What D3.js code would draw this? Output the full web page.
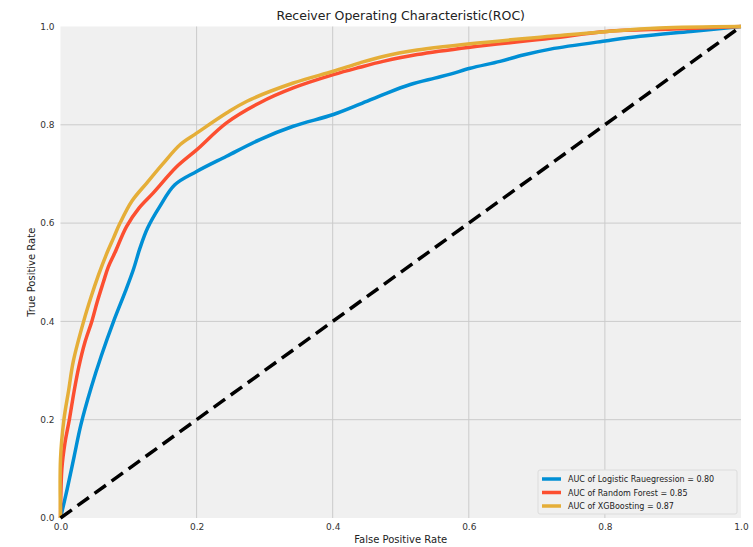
<!DOCTYPE html>
<html><head><meta charset="utf-8">
<script src="https://cdn.jsdelivr.net/npm/d3@7"></script>
<style>body{margin:0;background:#fff}svg{display:block}</style>
</head><body><svg id="c" width="753" height="547"></svg>
<script>
const title = "Receiver Operating Characteristic(ROC)";
const xLabel = "False Positive Rate";
const yLabel = "True Positive Rate";
const ticks = [0, 0.2, 0.4, 0.6, 0.8, 1.0];
const seriesNames = ["AUC of Logistic Rauegression = 0.80", "AUC of Random Forest = 0.85", "AUC of XGBoosting = 0.87"];
const colors = ["#008fd5", "#fc4f30", "#e5ae38"];

const lrFpr = [0,0.01,0.02,0.03,0.045,0.06,0.078,0.095,0.107,0.117,0.128,0.146,0.168,0.2,0.244,0.293,0.342,0.401,0.44,0.475,0.514,0.55,0.573,0.602,0.646,0.68,0.72,0.803,0.852,0.926,1];
const lrTpr = [0,0.06,0.125,0.19,0.265,0.33,0.4,0.46,0.505,0.55,0.59,0.634,0.678,0.705,0.736,0.77,0.797,0.821,0.842,0.862,0.882,0.895,0.903,0.915,0.929,0.942,0.954,0.971,0.98,0.99,1];

const rfFpr = [0,0.002,0.0066,0.013,0.02,0.027,0.036,0.046,0.054,0.063,0.07,0.08,0.097,0.115,0.136,0.171,0.2,0.244,0.293,0.342,0.401,0.44,0.474,0.524,0.602,0.72,0.803,0.9,1];
const rfTpr = [0,0.1,0.153,0.2,0.258,0.308,0.358,0.4,0.44,0.48,0.51,0.54,0.593,0.63,0.661,0.715,0.749,0.804,0.845,0.875,0.902,0.917,0.929,0.943,0.958,0.976,0.99,0.995,1];

const xgFpr = [0,0,0.005,0.012,0.019,0.034,0.045,0.056,0.067,0.078,0.0875,0.105,0.127,0.15,0.176,0.2,0.244,0.274,0.342,0.401,0.44,0.474,0.524,0.602,0.72,0.803,0.88,1];
const xgTpr = [0,0.12,0.2,0.26,0.32,0.4,0.45,0.495,0.535,0.57,0.6,0.645,0.682,0.72,0.76,0.783,0.824,0.848,0.885,0.909,0.926,0.939,0.952,0.965,0.98,0.99,0.997,1];

const diag = [0, 1];

const svg = d3.select("#c");
const L = 60.5, R = 741, T = 26.5, B = 518;
const x = d3.scaleLinear().domain([0,1]).range([L,R]);
const y = d3.scaleLinear().domain([0,1]).range([B,T]);

svg.append("rect").attr("x",L).attr("y",T).attr("width",R-L).attr("height",B-T).attr("fill","#f0f0f0");

// grid
const g = svg.append("g");
ticks.slice(1,5).forEach(t=>{
  g.append("line").attr("x1",x(t)).attr("x2",x(t)).attr("y1",T).attr("y2",B).attr("stroke","#cbcbcb").attr("stroke-width",1);
  g.append("line").attr("x1",L).attr("x2",R).attr("y1",y(t)).attr("y2",y(t)).attr("stroke","#cbcbcb").attr("stroke-width",1);
});

const xAxis = d3.axisBottom(x).tickValues(ticks).tickFormat(d3.format(".1f")).tickSize(0).tickPadding(6);
const yAxis = d3.axisLeft(y).tickValues(ticks).tickFormat(d3.format(".1f")).tickSize(0).tickPadding(6);
const xa = svg.append("g").attr("transform",`translate(0,${B})`).call(xAxis);
const ya = svg.append("g").attr("transform",`translate(${L},0)`).call(yAxis);
[xa,ya].forEach(a=>{a.select(".domain").remove();a.selectAll("text").attr("font-family","DejaVu Sans").attr("font-size",9).attr("fill","#333");});

svg.append("clipPath").attr("id","cp").append("rect").attr("x",L-3).attr("y",T-3).attr("width",R-L+6).attr("height",B-T+6);

const line = d3.line().x(d=>x(d[0])).y(d=>y(d[1])).curve(d3.curveCatmullRom.alpha(0.5));
const series = [[lrFpr,lrTpr],[rfFpr,rfTpr],[xgFpr,xgTpr]];
const plot = svg.append("g").attr("clip-path","url(#cp)");
series.forEach((s,i)=>{
  plot.append("path").datum(d3.zip(s[0],s[1])).attr("d",line).attr("fill","none")
    .attr("stroke",colors[i]).attr("stroke-width",3.5).attr("stroke-linejoin","round");
});
plot.append("path").datum(d3.zip(diag,diag)).attr("d",d3.line().x(d=>x(d[0])).y(d=>y(d[1]))).attr("fill","none")
  .attr("stroke","#000").attr("stroke-width",3.5).attr("stroke-dasharray","14,7");

svg.append("text").attr("x",(L+R)/2).attr("y",20).attr("text-anchor","middle")
  .attr("font-family","DejaVu Sans").attr("font-size",12.5).attr("fill","#222").text(title);
svg.append("text").attr("x",(L+R)/2).attr("y",543).attr("text-anchor","middle")
  .attr("font-family","DejaVu Sans").attr("font-size",10).attr("fill","#222").text(xLabel);
svg.append("text").attr("transform",`translate(35,${(T+B)/2}) rotate(-90)`).attr("text-anchor","middle")
  .attr("font-family","DejaVu Sans").attr("font-size",10).attr("fill","#222").text(yLabel);

// legend
const lg = svg.append("g").attr("transform","translate(538,470)");
lg.append("rect").attr("width",199).attr("height",44).attr("rx",2).attr("fill","#f0f0f0").attr("stroke","#dcdcdc");
seriesNames.forEach((n,i)=>{
  const yy = 9 + i*13.5;
  lg.append("line").attr("x1",4).attr("x2",23).attr("y1",yy).attr("y2",yy).attr("stroke",colors[i]).attr("stroke-width",3.5);
  lg.append("text").attr("x",30).attr("y",yy+3).attr("font-family","DejaVu Sans").attr("font-size",8).attr("fill","#222").text(n);
});
</script></body></html>
